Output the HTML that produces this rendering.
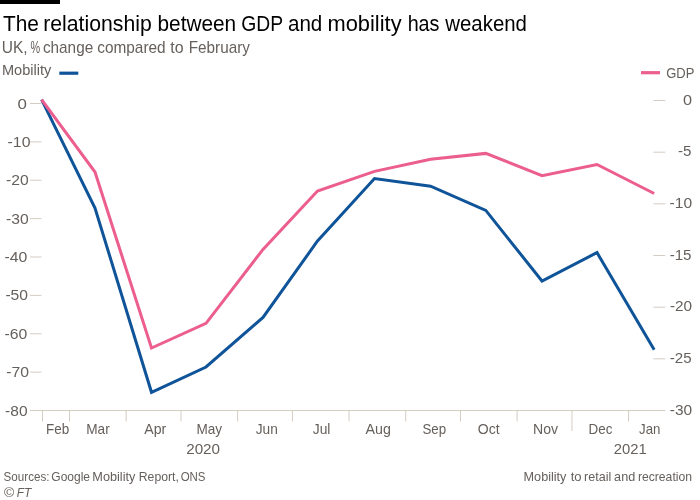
<!DOCTYPE html>
<html lang="en">
<head>
<meta charset="utf-8">
<title>The relationship between GDP and mobility has weakend</title>
<style>
html,body{margin:0;padding:0;background:#fff;}
body{width:700px;height:500px;overflow:hidden;}
svg{display:block;font-family:"Liberation Sans",Arial,Helvetica,sans-serif;}
text{white-space:pre;}
.t{fill:#000;font-size:21.2px;}
.st{fill:#66605c;font-size:16.4px;}
.lg{fill:#66605c;font-size:14.4px;}
.lg2{fill:#66605c;font-size:14.2px;}
.ax{fill:#66605c;font-size:15.2px;}
.mo{fill:#66605c;font-size:13.9px;}
.ft{fill:#66605c;font-size:13.0px;}
.fti{font-style:italic;}
</style>
</head>
<body>
<svg width="700" height="500" viewBox="0 0 700 500">
<rect x="0" y="0" width="700" height="500" fill="#fff"/>
<rect x="0" y="0" width="60" height="4" fill="#000"/>

<text id="title" class="t" y="31.4"><tspan x="3.03" textLength="35.96" lengthAdjust="spacingAndGlyphs">The</tspan> <tspan x="43.22" textLength="108.46" lengthAdjust="spacingAndGlyphs">relationship</tspan> <tspan x="157.49" textLength="78.70" lengthAdjust="spacingAndGlyphs">between</tspan> <tspan x="241.15" textLength="41.57" lengthAdjust="spacingAndGlyphs">GDP</tspan> <tspan x="287.98" textLength="34.35" lengthAdjust="spacingAndGlyphs">and</tspan> <tspan x="327.52" textLength="74.04" lengthAdjust="spacingAndGlyphs">mobility</tspan> <tspan x="407.65" textLength="31.85" lengthAdjust="spacingAndGlyphs">has</tspan> <tspan x="445.30" textLength="81.63" lengthAdjust="spacingAndGlyphs">weakend</tspan></text>
<text id="sub" class="st" y="52.9"><tspan x="1.80" textLength="25.88" lengthAdjust="spacingAndGlyphs">UK,</tspan> <tspan x="30.38" textLength="9.64" lengthAdjust="spacingAndGlyphs">%</tspan> <tspan x="42.92" textLength="50.29" lengthAdjust="spacingAndGlyphs">change</tspan> <tspan x="97.28" textLength="68.39" lengthAdjust="spacingAndGlyphs">compared</tspan> <tspan x="170.35" textLength="13.28" lengthAdjust="spacingAndGlyphs">to</tspan> <tspan x="188.72" textLength="61.19" lengthAdjust="spacingAndGlyphs">February</tspan></text>
<text id="src" class="ft" y="481.0"><tspan x="3.62" textLength="45.91" lengthAdjust="spacingAndGlyphs">Sources:</tspan> <tspan x="51.33" textLength="38.69" lengthAdjust="spacingAndGlyphs">Google</tspan> <tspan x="92.32" textLength="43.08" lengthAdjust="spacingAndGlyphs">Mobility</tspan> <tspan x="138.79" textLength="40.12" lengthAdjust="spacingAndGlyphs">Report,</tspan> <tspan x="180.66" textLength="24.86" lengthAdjust="spacingAndGlyphs">ONS</tspan></text>
<text id="note" class="ft" y="481.0"><tspan x="523.58" textLength="42.88" lengthAdjust="spacingAndGlyphs">Mobility</tspan> <tspan x="570.66" textLength="10.87" lengthAdjust="spacingAndGlyphs">to</tspan> <tspan x="584.10" textLength="27.14" lengthAdjust="spacingAndGlyphs">retail</tspan> <tspan x="614.10" textLength="21.13" lengthAdjust="spacingAndGlyphs">and</tspan> <tspan x="637.91" textLength="54.09" lengthAdjust="spacingAndGlyphs">recreation</tspan></text>
<text id="lgm" class="lg" y="75.4"><tspan x="1.91" textLength="49.36" lengthAdjust="spacingAndGlyphs">Mobility</tspan></text>
<text id="lgg" class="lg2" y="77.9"><tspan x="666.26" textLength="28.18" lengthAdjust="spacingAndGlyphs">GDP</tspan></text>
<text id="m_Feb" class="mo" y="434.4"><tspan x="46.04" textLength="23.22" lengthAdjust="spacingAndGlyphs">Feb</tspan></text>
<text id="m_Mar" class="mo" y="434.4"><tspan x="86.22" textLength="23.50" lengthAdjust="spacingAndGlyphs">Mar</tspan></text>
<text id="m_Apr" class="mo" y="434.4"><tspan x="144.28" textLength="21.97" lengthAdjust="spacingAndGlyphs">Apr</tspan></text>
<text id="m_May" class="mo" y="434.4"><tspan x="196.38" textLength="25.62" lengthAdjust="spacingAndGlyphs">May</tspan></text>
<text id="m_Jun" class="mo" y="434.4"><tspan x="255.74" textLength="22.05" lengthAdjust="spacingAndGlyphs">Jun</tspan></text>
<text id="m_Jul" class="mo" y="434.4"><tspan x="312.75" textLength="17.65" lengthAdjust="spacingAndGlyphs">Jul</tspan></text>
<text id="m_Aug" class="mo" y="434.4"><tspan x="365.44" textLength="25.38" lengthAdjust="spacingAndGlyphs">Aug</tspan></text>
<text id="m_Sep" class="mo" y="434.4"><tspan x="422.44" textLength="23.64" lengthAdjust="spacingAndGlyphs">Sep</tspan></text>
<text id="m_Oct" class="mo" y="434.4"><tspan x="477.77" textLength="21.80" lengthAdjust="spacingAndGlyphs">Oct</tspan></text>
<text id="m_Nov" class="mo" y="434.4"><tspan x="532.96" textLength="25.07" lengthAdjust="spacingAndGlyphs">Nov</tspan></text>
<text id="m_Dec" class="mo" y="434.4"><tspan x="588.61" textLength="23.91" lengthAdjust="spacingAndGlyphs">Dec</tspan></text>
<text id="m_Jan" class="mo" y="434.4"><tspan x="639.02" textLength="21.35" lengthAdjust="spacingAndGlyphs">Jan</tspan></text>
<text id="copy" class="ft" y="496.6"><tspan x="3.99" textLength="10.28" lengthAdjust="spacingAndGlyphs">©</tspan></text>
<text id="ftm" class="ft fti" y="496.6"><tspan x="16.76" textLength="14.51" lengthAdjust="spacingAndGlyphs">FT</tspan></text>
<text id="y2020" class="ax" y="454.3"><tspan x="186.20" textLength="33.88" lengthAdjust="spacingAndGlyphs">2020</tspan></text>
<text id="y2021" class="ax" y="454.3"><tspan x="613.77" textLength="33.02" lengthAdjust="spacingAndGlyphs">2021</tspan></text>
<text id="L0" class="ax" y="108.6"><tspan x="17.57" textLength="9.38" lengthAdjust="spacingAndGlyphs">0</tspan></text>
<text id="L10" class="ax" y="146.97"><tspan x="7.62" textLength="22.81" lengthAdjust="spacingAndGlyphs">-10</tspan></text>
<text id="L20" class="ax" y="185.35"><tspan x="6.05" textLength="22.63" lengthAdjust="spacingAndGlyphs">-20</tspan></text>
<text id="L30" class="ax" y="223.72"><tspan x="6.05" textLength="22.63" lengthAdjust="spacingAndGlyphs">-30</tspan></text>
<text id="L40" class="ax" y="262.1"><tspan x="4.41" textLength="22.83" lengthAdjust="spacingAndGlyphs">-40</tspan></text>
<text id="L50" class="ax" y="300.47"><tspan x="5.41" textLength="22.62" lengthAdjust="spacingAndGlyphs">-50</tspan></text>
<text id="L60" class="ax" y="338.85"><tspan x="4.41" textLength="22.78" lengthAdjust="spacingAndGlyphs">-60</tspan></text>
<text id="L70" class="ax" y="377.22"><tspan x="6.26" textLength="22.77" lengthAdjust="spacingAndGlyphs">-70</tspan></text>
<text id="L80" class="ax" y="415.6"><tspan x="5.12" textLength="22.41" lengthAdjust="spacingAndGlyphs">-80</tspan></text>
<text id="R0" class="ax" y="104.7"><tspan x="683.08" textLength="9.05" lengthAdjust="spacingAndGlyphs">0</tspan></text>
<text id="R5" class="ax" y="156.37"><tspan x="678.08" textLength="13.47" lengthAdjust="spacingAndGlyphs">-5</tspan></text>
<text id="R10" class="ax" y="208.03"><tspan x="669.61" textLength="22.48" lengthAdjust="spacingAndGlyphs">-10</tspan></text>
<text id="R15" class="ax" y="259.7"><tspan x="669.63" textLength="21.90" lengthAdjust="spacingAndGlyphs">-15</tspan></text>
<text id="R20" class="ax" y="311.37"><tspan x="669.95" textLength="22.14" lengthAdjust="spacingAndGlyphs">-20</tspan></text>
<text id="R25" class="ax" y="363.03"><tspan x="669.72" textLength="21.81" lengthAdjust="spacingAndGlyphs">-25</tspan></text>
<text id="R30" class="ax" y="414.7"><tspan x="669.76" textLength="22.34" lengthAdjust="spacingAndGlyphs">-30</tspan></text>
<rect x="59.3" y="71.6" width="19" height="3.2" fill="#0f5499"/>
<rect x="641" y="71.1" width="19" height="3.2" fill="#eb5e8d"/>
<rect x="30" y="103.00" width="11.5" height="1" fill="#d5ccc2"/>
<rect x="30" y="141.38" width="11.5" height="1" fill="#d5ccc2"/>
<rect x="30" y="179.75" width="11.5" height="1" fill="#d5ccc2"/>
<rect x="30" y="218.12" width="11.5" height="1" fill="#d5ccc2"/>
<rect x="30" y="256.50" width="11.5" height="1" fill="#d5ccc2"/>
<rect x="30" y="294.88" width="11.5" height="1" fill="#d5ccc2"/>
<rect x="30" y="333.25" width="11.5" height="1" fill="#d5ccc2"/>
<rect x="30" y="371.62" width="11.5" height="1" fill="#d5ccc2"/>
<rect x="653.3" y="100.00" width="12" height="1" fill="#d5ccc2"/>
<rect x="653.3" y="151.67" width="12" height="1" fill="#d5ccc2"/>
<rect x="653.3" y="203.33" width="12" height="1" fill="#d5ccc2"/>
<rect x="653.3" y="255.00" width="12" height="1" fill="#d5ccc2"/>
<rect x="653.3" y="306.67" width="12" height="1" fill="#d5ccc2"/>
<rect x="653.3" y="358.33" width="12" height="1" fill="#d5ccc2"/>
<rect x="30" y="410" width="635.3" height="1" fill="#d5ccc2"/>
<rect x="42" y="410" width="1" height="11.5" fill="#d5ccc2"/>
<rect x="69" y="410" width="1" height="11.5" fill="#d5ccc2"/>
<rect x="125.65" y="410" width="1" height="11.5" fill="#d5ccc2"/>
<rect x="180.45" y="410" width="1" height="11.5" fill="#d5ccc2"/>
<rect x="237.1" y="410" width="1" height="11.5" fill="#d5ccc2"/>
<rect x="291.9" y="410" width="1" height="11.5" fill="#d5ccc2"/>
<rect x="348.55" y="410" width="1" height="11.5" fill="#d5ccc2"/>
<rect x="405.2" y="410" width="1" height="11.5" fill="#d5ccc2"/>
<rect x="460" y="410" width="1" height="11.5" fill="#d5ccc2"/>
<rect x="516.6" y="410" width="1" height="11.5" fill="#d5ccc2"/>
<rect x="571.45" y="410" width="1" height="21" fill="#d5ccc2"/>
<rect x="628.1" y="410" width="1" height="11.5" fill="#d5ccc2"/>
<polyline fill="none" stroke="#0f5499" stroke-width="3" stroke-linejoin="miter" stroke-linecap="butt" points="41.6,99.6 95.0,208.0 151.5,392.3 206.0,367.0 263.0,317.4 317.5,241.0 374.5,178.6 430.6,186.2 485.8,210.4 542.0,281.0 597.0,252.6 654.2,349.7"/>
<polyline fill="none" stroke="#eb5e8d" stroke-width="3" stroke-linejoin="miter" stroke-linecap="butt" points="41.6,99.6 95.0,172.0 151.5,348.0 206.0,323.3 263.0,249.4 317.5,191.0 374.5,171.4 430.6,159.3 485.8,153.4 542.0,175.6 597.0,164.5 654.2,193.5"/>
</svg>
</body>
</html>
